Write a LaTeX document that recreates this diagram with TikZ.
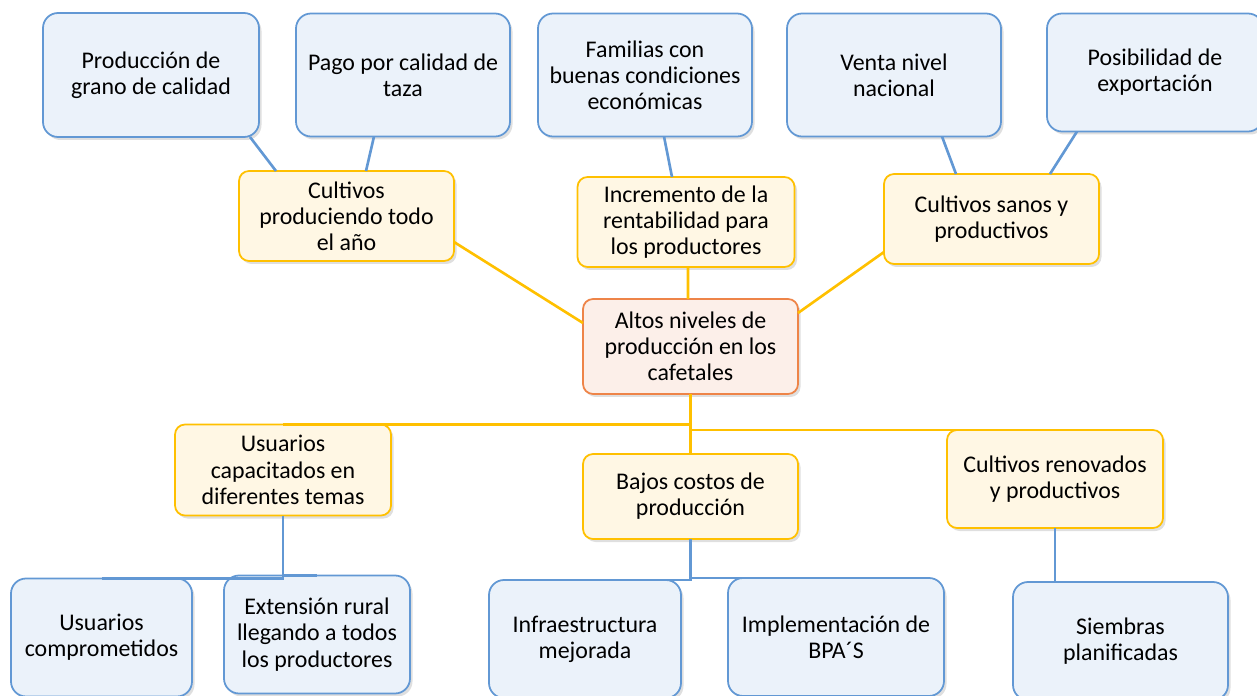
\documentclass[tikz,border=0pt]{standalone}
\usepackage{fontspec}
\setmainfont{Carlito}
\usetikzlibrary{positioning,shadows}
\definecolor{leafedge}{RGB}{98,152,212}
\definecolor{leaffill}{RGB}{235,242,250}
\definecolor{branchedge}{RGB}{255,192,0}
\definecolor{branchfill}{RGB}{255,247,228}
\definecolor{coreedge}{RGB}{238,132,72}
\definecolor{corefill}{RGB}{252,239,233}
\tikzset{
  box/.style={
    draw,line width=1pt,align=center,inner sep=1mm,outer sep=0pt,
    font=\fontsize{13.6}{14.9}\selectfont,
    drop shadow={opacity=0.25,shadow xshift=0.5mm,shadow yshift=-0.6mm}
  },
  leaf/.style={box,draw=leafedge,fill=leaffill,rounded corners=3mm,
    minimum width=43mm,minimum height=24.6mm},
  branch/.style={box,draw=branchedge,fill=branchfill,rounded corners=2mm,
    minimum width=43mm,minimum height=18mm},
  core/.style={box,draw=coreedge,fill=corefill,rounded corners=2mm,
    minimum width=43mm,minimum height=19mm},
  bline/.style={draw=leafedge,line width=1.5pt},
  yline/.style={draw=branchedge,line width=1.5pt}
}

\begin{document}
\begin{tikzpicture}
\useasboundingbox (0,0) rectangle (251.4mm,-139.2mm);

% centro
\node[core] (altos) at (138.1mm,-69.3mm) {Altos niveles de\\producción en los\\cafetales};

% fines
\node[branch,above=6.4mm of altos,xshift=-0.9mm,minimum width=43.4mm] (incr) {Incremento de la\\rentabilidad para\\los productores};
\node[branch,left=25.8mm of altos,yshift=26.1mm] (cprod) {Cultivos\\produciendo todo\\el año};
\node[branch,right=17.2mm of altos,yshift=25.5mm] (csanos) {Cultivos sanos y\\productivos};

\node[leaf,anchor=north west,minimum width=43.2mm,minimum height=24.8mm] (prod) at (8.6mm,-2.6mm) {Producción de\\grano de calidad};
\node[leaf,right=7.4mm of prod,minimum width=42.8mm] (pago) {Pago por calidad de\\taza};
\node[leaf,right=5.6mm of pago,minimum width=42.8mm] (fam) {Familias con\\buenas condiciones\\económicas};
\node[leaf,right=7mm of fam,minimum width=42.8mm] (venta) {Venta nivel\\nacional};
\node[leaf,right=9.2mm of venta.north east,anchor=north west,minimum width=43.2mm,minimum height=23.6mm] (posib) {Posibilidad de\\exportación};

% medios
\node[branch,below=12mm of altos,minimum height=17mm] (bajos) {Bajos costos de\\producción};
\node[branch,left=38.4mm of bajos,yshift=5.3mm,minimum width=43.2mm,minimum height=18.2mm] (ucap) {Usuarios\\capacitados en\\diferentes temas};
\node[branch,right=29.8mm of bajos,yshift=3.5mm,minimum width=43.2mm,minimum height=19.6mm] (creno) {Cultivos renovados\\y productivos};

\node[leaf,below=12.6mm of ucap,xshift=-36.3mm,minimum width=36.2mm,minimum height=23.6mm] (ucomp) {Usuarios\\comprometidos};
\node[leaf,right=6.4mm of ucomp,yshift=0.6mm,minimum width=37.2mm,minimum height=23.6mm] (ext) {Extensión rural\\llegando a todos\\los productores};
\node[leaf,below=8.2mm of bajos,xshift=-21.1mm,minimum width=38.4mm,minimum height=23.6mm] (infra) {Infraestructura\\mejorada};
\node[leaf,right=9.4mm of infra,yshift=0.4mm,minimum width=43.2mm,minimum height=23.6mm] (impl) {Implementación de\\BPA´S};
\node[leaf,below=10.8mm of creno,xshift=13.1mm,minimum height=23.6mm] (siemb) {Siembras\\planificadas};

% conectores
\draw[bline] ([xshift=-1.8mm]prod.south east) -- ([xshift=7.4mm]cprod.north west);
\draw[bline] ([xshift=15.6mm]pago.south west) -- ([xshift=25.4mm]cprod.north west);
\draw[bline] ([xshift=3.8mm]fam.south) -- ([xshift=-2.8mm]incr.north);
\draw[bline] ([xshift=9.6mm]venta.south) -- ([xshift=-7.1mm]csanos.north);
\draw[bline] ([xshift=6mm]posib.south west) -- ([xshift=11.7mm]csanos.north);

\draw[yline] ([yshift=-5.2mm]cprod.east) -- ([yshift=4.7mm]altos.west);
\draw[yline] ([xshift=0.4mm]incr.south) -- ([xshift=-0.5mm]altos.north);
\draw[yline] ([yshift=-6.6mm]csanos.west) -- ([yshift=6.7mm]altos.east);
\draw[yline] (altos.south) |- (ucap.north);
\draw[yline] (altos.south) |- (creno.north);
\draw[yline] (altos.south) -- (bajos.north);

\draw[bline] (ucap.south) |- (ucomp.north);
\draw[bline] (ucap.south) |- (ext.north);
\draw[bline] (bajos.south) |- (infra.north);
\draw[bline] (bajos.south) |- (impl.north);
\draw[bline] (creno.south) |- (siemb.north);

\end{tikzpicture}
\end{document}
